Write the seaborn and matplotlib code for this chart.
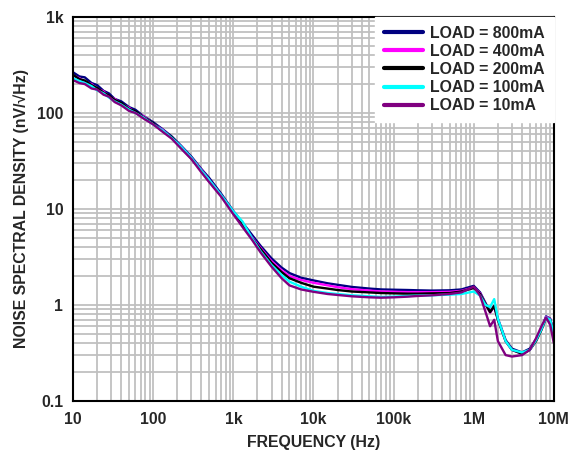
import pandas as pd
import matplotlib
matplotlib.use("Agg")
import matplotlib.pyplot as plt
import seaborn as sns

# Frequencies (Hz) shared by all curves
freq = [10, 12, 14, 17, 20, 24, 28, 33, 40, 50,
        60, 75, 100, 130, 170, 220, 300, 400, 500, 700,
        1e3, 1.3e3, 1.7e3, 2.2e3, 3e3, 4e3, 5e3, 7e3, 1e4, 1.5e4,
        2e4, 3e4, 5e4, 7e4, 1e5, 1.5e5, 2e5, 3e5, 5e5, 7e5,
        1e6, 1.2e6, 1.4e6, 1.6e6, 1.8e6, 2e6, 2.5e6, 3e6, 4e6, 5e6,
        6e6, 7e6, 8e6, 9e6, 1e7]

# Noise spectral density (nV/sqrt(Hz)) per load current
load_800ma = [265, 240, 235, 205, 195, 170, 160, 140, 132, 115,
              108, 93, 80, 68, 57, 46, 35, 26, 21, 14.5,
              9.5, 7.2, 5.4, 4.1, 3.05, 2.45, 2.15, 1.92, 1.8, 1.68,
              1.62, 1.54, 1.48, 1.45, 1.44, 1.43, 1.42, 1.41, 1.42, 1.45,
              1.58, 1.35, 1.05, 0.85, 0.98, 0.72, 0.43, 0.35, 0.32, 0.35,
              0.44, 0.57, 0.76, 0.72, 0.5]
load_400ma = [245, 230, 210, 200, 178, 168, 148, 140, 124, 113,
              101, 93, 77, 67, 55, 45, 34, 25.5, 20, 14,
              9.3, 6.9, 5.1, 3.9, 2.85, 2.3, 2.0, 1.82, 1.7, 1.6,
              1.53, 1.46, 1.41, 1.38, 1.37, 1.36, 1.36, 1.36, 1.37, 1.4,
              1.52, 1.32, 1.02, 0.83, 0.96, 0.71, 0.42, 0.34, 0.31, 0.34,
              0.43, 0.56, 0.75, 0.71, 0.52]
load_200ma = [250, 225, 218, 195, 182, 163, 152, 137, 127, 110,
              104, 91, 78, 65, 56, 44, 33.5, 25, 19.5, 13.8,
              9.2, 6.8, 5.0, 3.8, 2.75, 2.2, 1.9, 1.7, 1.55, 1.48,
              1.43, 1.38, 1.35, 1.33, 1.32, 1.31, 1.31, 1.32, 1.33, 1.38,
              1.5, 1.3, 1.02, 0.84, 0.97, 0.7, 0.42, 0.34, 0.31, 0.34,
              0.42, 0.55, 0.73, 0.7, 0.5]
load_100ma = [230, 215, 205, 190, 172, 160, 145, 132, 122, 108,
              100, 90, 76, 66, 55, 45, 34, 25, 20, 14,
              9.4, 7.4, 5.0, 3.6, 2.6, 2.05, 1.75, 1.55, 1.4, 1.33,
              1.3, 1.26, 1.23, 1.21, 1.22, 1.24, 1.25, 1.26, 1.28, 1.3,
              1.38, 1.25, 1.0, 0.95, 1.15, 0.72, 0.42, 0.34, 0.32, 0.34,
              0.43, 0.56, 0.74, 0.7, 0.5]
load_10ma = [220, 205, 200, 180, 175, 155, 148, 130, 120, 105,
             100, 88, 76, 64, 54, 43, 33, 24, 19, 13.5,
             8.8, 6.5, 4.8, 3.5, 2.5, 1.9, 1.6, 1.45, 1.37, 1.3,
             1.27, 1.23, 1.2, 1.19, 1.2, 1.22, 1.24, 1.26, 1.3, 1.35,
             1.55, 1.25, 0.85, 0.6, 0.7, 0.42, 0.3, 0.29, 0.3, 0.34,
             0.45, 0.6, 0.74, 0.62, 0.4]

series_names = ["LOAD = 800mA", "LOAD = 400mA", "LOAD = 200mA",
                "LOAD = 100mA", "LOAD = 10mA"]
series_values = [load_800ma, load_400ma, load_200ma, load_100ma, load_10ma]
colors = ["#000080", "#ff00ff", "#000000", "#00ffff", "#800080"]

x_ticks = [10, 100, 1e3, 1e4, 1e5, 1e6, 1e7]
x_labels = ["10", "100", "1k", "10k", "100k", "1M", "10M"]
y_ticks = [0.1, 1, 10, 100, 1000]
y_labels = ["0.1", "1", "10", "100", "1k"]

FS = 11.4

sns.set_style("white")
plt.rcParams["font.family"] = ["Liberation Sans", "DejaVu Sans"]
plt.rcParams["font.weight"] = "bold"

# Build long-format table
frames = []
for name, vals in zip(series_names, series_values):
    frames.append(pd.DataFrame({"freq": freq, "nsd": vals, "load": name}))
df = pd.concat(frames, ignore_index=True)

fig = plt.figure(figsize=(5.71, 4.53), dpi=100)
ax = fig.add_axes([0.128, 0.115, 0.842, 0.8475])

sns.lineplot(data=df, x="freq", y="nsd", hue="load", hue_order=series_names,
             palette=dict(zip(series_names, colors)), estimator=None,
             sort=False, linewidth=1.7, ax=ax)
# thicker line for 10mA, as in the reference
ax.lines[-1].set_linewidth(2.5)

ax.set_xscale("log")
ax.set_yscale("log")
ax.set_xlim(10, 1e7)
ax.set_ylim(0.1, 1000)

ax.set_xticks(x_ticks)
ax.set_xticklabels(x_labels)
ax.set_yticks(y_ticks)
ax.set_yticklabels(y_labels)
ax.tick_params(which="both", length=0, labelsize=FS)
ax.tick_params(axis="x", pad=8)
ax.tick_params(axis="y", pad=7)
for lab in ax.get_xticklabels() + ax.get_yticklabels():
    lab.set_fontweight("bold")

ax.grid(which="both", color="#c0c0c0", linewidth=1.3)
ax.set_axisbelow(True)
for sp in ax.spines.values():
    sp.set_color("black")
    sp.set_linewidth(1.5)

ax.set_xlabel("FREQUENCY (Hz)", fontsize=FS, fontweight="bold", labelpad=6)
ax.set_ylabel("NOISE SPECTRAL DENSITY (nV/\u221aHz)", fontsize=FS,
              fontweight="bold", labelpad=6)

handles, labels = ax.get_legend_handles_labels()
for h in handles:
    h.set_linewidth(3)
leg = ax.legend(handles, labels, loc="upper right", frameon=True,
                fancybox=False, facecolor="white", edgecolor="white",
                framealpha=1, borderaxespad=0.0, borderpad=0.55,
                handlelength=2.5, handletextpad=0.45, labelspacing=0.2,
                prop={"size": FS, "weight": "bold"})

fig.savefig("out.png", dpi=100)
